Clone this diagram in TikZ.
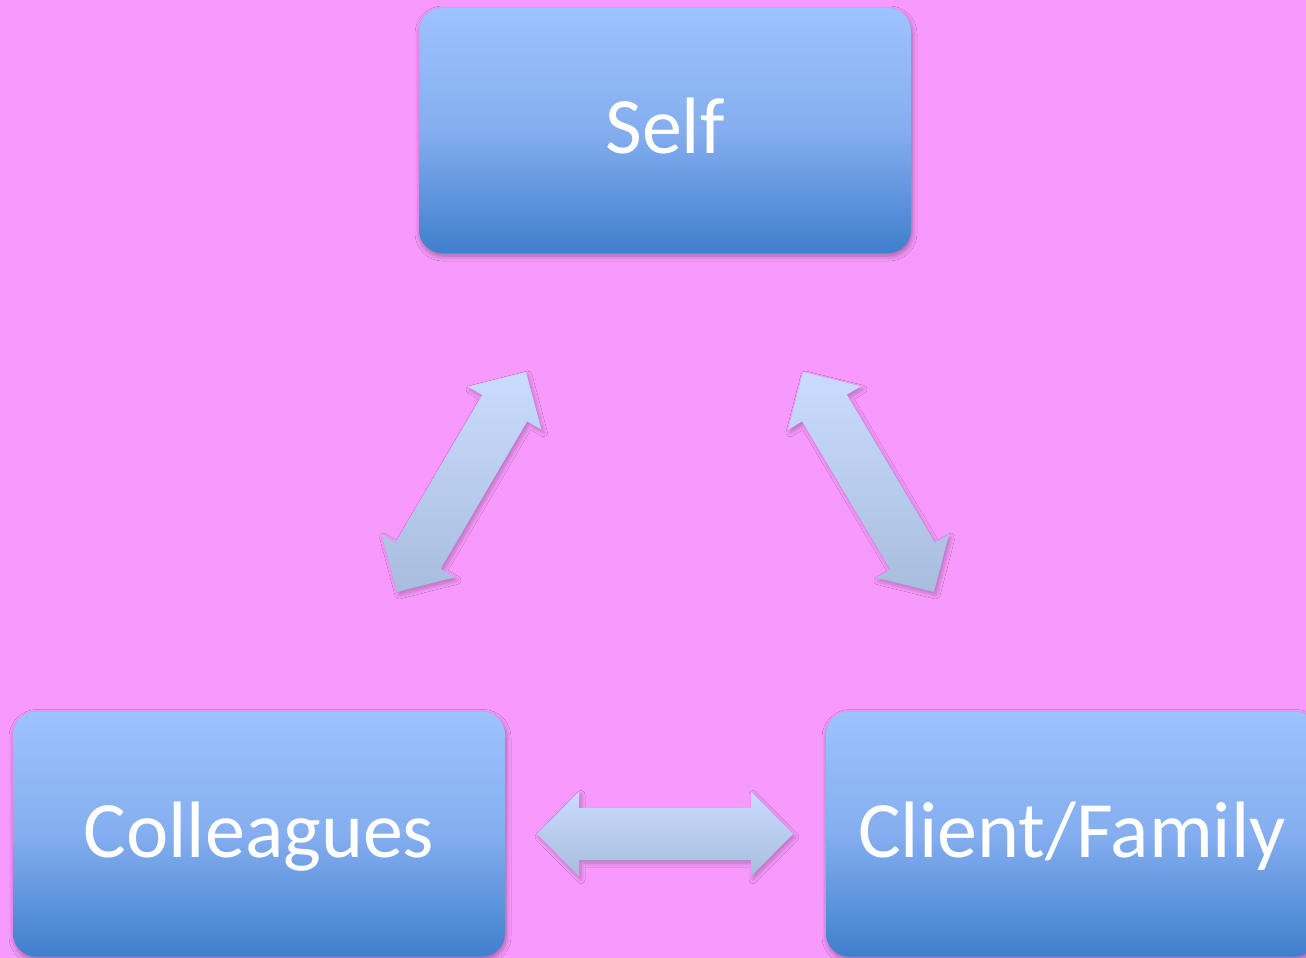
\documentclass[tikz,border=0pt]{standalone}
\usepackage{fontspec}
\setmainfont{Carlito}
\usetikzlibrary{calc,shadows.blur}
\definecolor{bgpink}{HTML}{F799FD}
\definecolor{boxtop}{HTML}{9DC3FF}
\definecolor{boxmid}{HTML}{84AEEF}
\definecolor{boxbot}{HTML}{3F7FCD}
\definecolor{arrtop}{HTML}{C9DCFF}
\definecolor{arrbot}{HTML}{A8BDDE}
\newcommand\dblarrow[2]{%
  \coordinate (#1h) at ($(#1)!21pt!(#2)$);
  \coordinate (#2h) at ($(#2)!21pt!(#1)$);
  \path[blockarrow] (#1)
    -- ($(#1h)!21.25pt!90:(#1)$) -- ($(#1h)!13pt!90:(#1)$)
    -- ($(#2h)!13pt!-90:(#2)$) -- ($(#2h)!21.25pt!-90:(#2)$)
    -- (#2)
    -- ($(#2h)!21.25pt!90:(#2)$) -- ($(#2h)!13pt!90:(#2)$)
    -- ($(#1h)!13pt!-90:(#1)$) -- ($(#1h)!21.25pt!-90:(#1)$)
    -- cycle;}
\begin{document}
\begin{tikzpicture}[x=0.5pt,y=-0.5pt,
  box/.style={rounded corners=11.5pt, minimum width=246pt, minimum height=122.5pt,
    top color=boxtop, bottom color=boxbot, middle color=boxmid,
    text=white, font=\fontsize{40}{48}\selectfont,
    text height=23pt, text depth=0pt, inner sep=0pt,
    blur shadow={shadow xshift=0.5pt, shadow yshift=-1.5pt, shadow blur radius=2.5pt,
      shadow blur steps=6, shadow opacity=35}},
  blockarrow/.style={top color=arrtop, bottom color=arrbot,
    blur shadow={shadow xshift=1pt, shadow yshift=-1.5pt, shadow blur radius=2pt,
      shadow blur steps=6, shadow opacity=25}}]
  \useasboundingbox (0,0) rectangle (1306,958);
  \clip (0,0) rectangle (1306,958);
  \fill[bgpink] (0,0) rectangle (1306,958);
  \node[box] (self) at (665,130.5) {Self};
  \node[box] (coll) at (259,834) {Colleagues};
  \node[box] (client) at (1072,834) {Client/Family};
  \coordinate (t1) at (526,372);
  \coordinate (t2) at (397,592);
  \coordinate (t3) at (803,372);
  \coordinate (t4) at (934,592);
  \coordinate (t5) at (537,834);
  \coordinate (t6) at (793,834);
  \dblarrow{t1}{t2}
  \dblarrow{t3}{t4}
  \dblarrow{t5}{t6}
\end{tikzpicture}
\end{document}
